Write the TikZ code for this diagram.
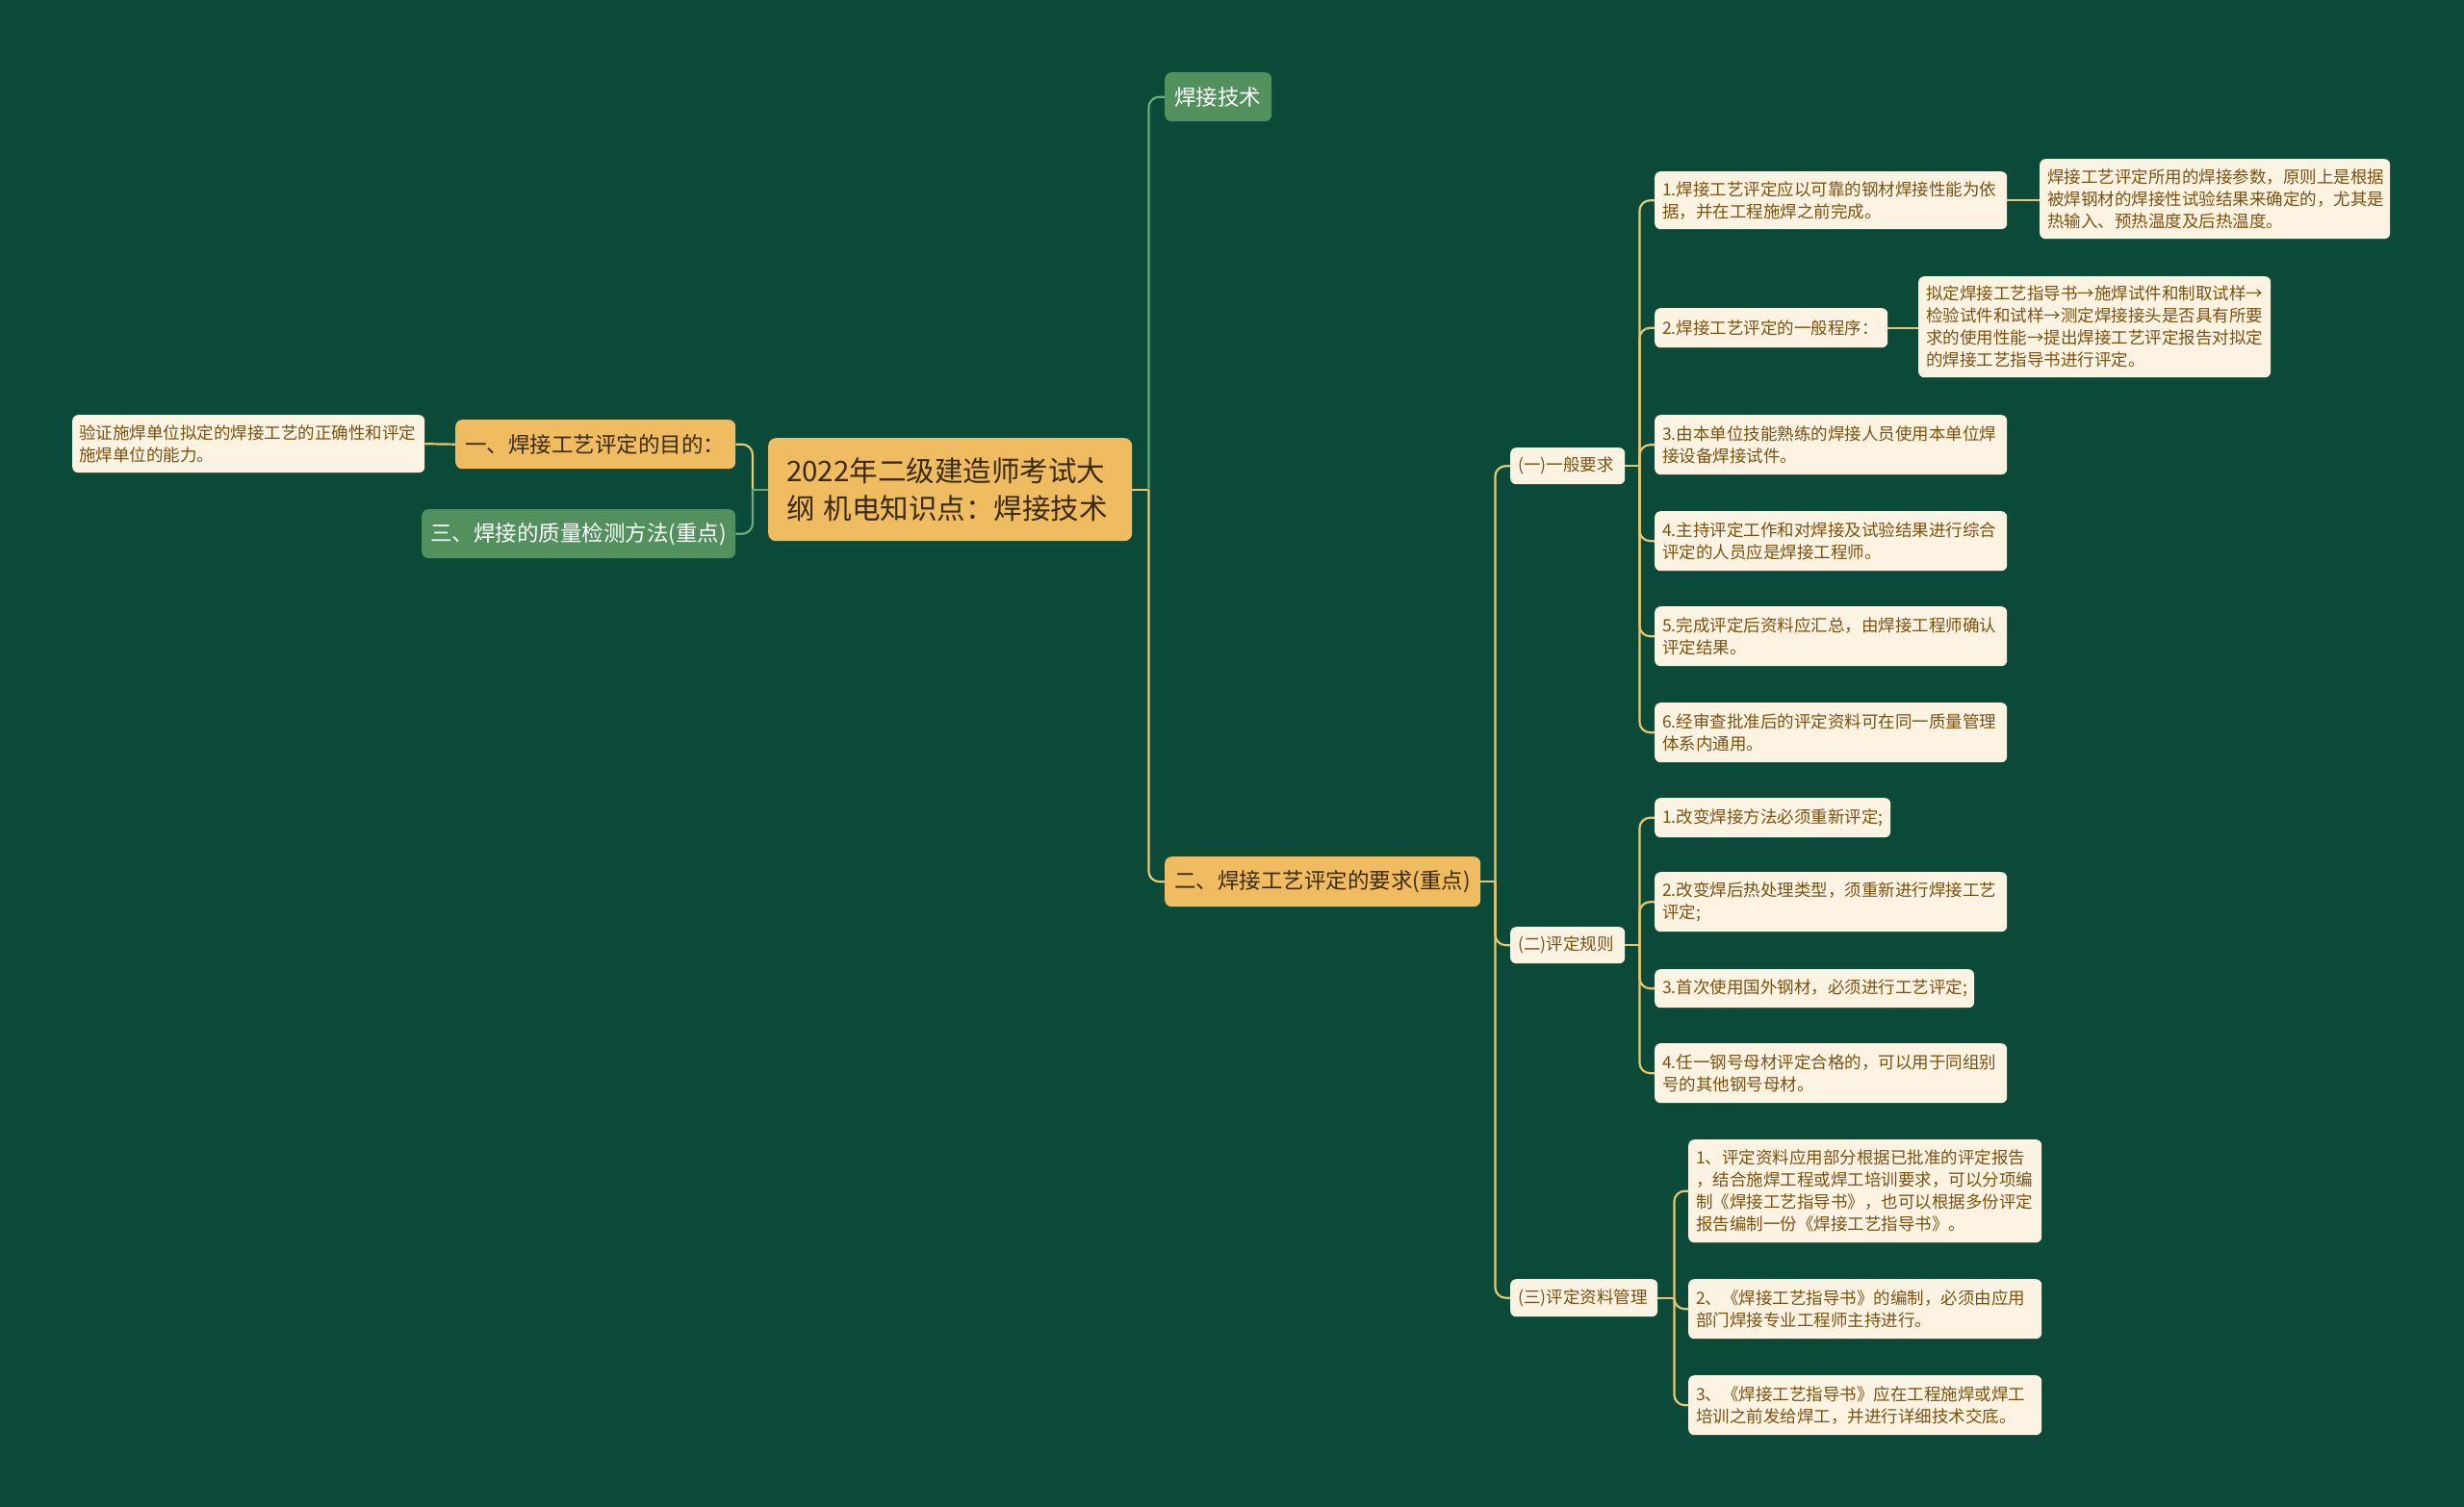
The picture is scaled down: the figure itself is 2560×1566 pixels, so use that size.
\documentclass[tikz,border=0pt]{standalone}
\usepackage{fontspec}
\newfontfamily\cjk{Noto Sans CJK SC}
\usetikzlibrary{calc}
\definecolor{bg}{HTML}{0B4A38}
\definecolor{orangebox}{HTML}{F0BC62}
\definecolor{greenbox}{HTML}{52915E}
\definecolor{creambox}{HTML}{FDF3E3}
\definecolor{leaftext}{HTML}{7A5210}
\definecolor{darktext}{HTML}{3A2A10}
\definecolor{gold}{HTML}{E6C872}
\definecolor{lgreen}{HTML}{6DAA78}
\newcommand\bx[8]{%
\pgfmathsetmacro\bxw{#4-#2}%
\pgfmathsetmacro\bxh{#5-#3}%
\pgfmathsetmacro\bxt{#4-#2-2*#7}%
\node[#6,anchor=north west,inner xsep=#7pt,inner ysep=1pt,minimum width=\bxw pt,minimum height=\bxh pt,text width=\bxt pt] (#1) at (#2,#3) {#8};}
\tikzset{
  leaf/.style={fill=creambox,rounded corners=6pt,text=leaftext,align=left,font=\cjk\fontsize{17.5}{23}\selectfont},
  orng/.style={fill=orangebox,rounded corners=7pt,text=darktext,align=left,font=\cjk\fontsize{22.5}{28}\selectfont},
  grn/.style={fill=greenbox,rounded corners=7pt,text=white,align=left,font=\cjk\fontsize{22.5}{28}\selectfont},
  rootbox/.style={fill=orangebox,rounded corners=8pt,text=darktext,align=left,font=\cjk\fontsize{29.5}{39}\selectfont},
  gl/.style={draw=gold,line width=2.2pt},
  gn/.style={draw=lgreen,line width=2.2pt},
  rc/.style={rounded corners=11pt}
}
\begin{document}
\begin{tikzpicture}[x=1pt,y=-1pt]
\fill[bg] (0,0) rectangle (2560,1566);
\useasboundingbox (0,0) rectangle (2560,1566);

% root and first level
\bx{root}{798}{455}{1176}{562}{rootbox}{19}{2022年二级建造师考试大\\纲\hspace{0.3em}机电知识点：焊接技术}
\bx{tech}{1210}{75}{1321}{126}{grn}{10}{焊接技术}
\bx{er}{1210}{890}{1538}{942}{orng}{10}{二、焊接工艺评定的要求(重点)}
\bx{yi}{473}{436}{764}{487}{orng}{10}{一、焊接工艺评定的目的：}
\bx{san}{438}{529}{764}{580}{grn}{9}{三、焊接的质量检测方法(重点)}
\bx{goal}{75}{431}{441}{491}{leaf}{7}{验证施焊单位拟定的焊接工艺的正确性和评定\\施焊单位的能力。}

% second level
\bx{gen}{1569}{465}{1688}{503}{leaf}{8}{(一)一般要求}
\bx{rule}{1569}{963}{1688}{1001}{leaf}{8}{(二)评定规则}
\bx{mgmt}{1569}{1329}{1722}{1368}{leaf}{8}{(三)评定资料管理}

% general requirements
\bx{ga}{1719}{178}{2085}{238}{leaf}{8}{1.焊接工艺评定应以可靠的钢材焊接性能为依\\据，并在工程施焊之前完成。}
\bx{gad}{2119}{165}{2483}{248}{leaf}{8}{焊接工艺评定所用的焊接参数，原则上是根据\\被焊钢材的焊接性试验结果来确定的，尤其是\\热输入、预热温度及后热温度。}
\bx{gb}{1719}{320}{1961}{361}{leaf}{8}{2.焊接工艺评定的一般程序：}
\bx{gbd}{1993}{287}{2359}{392}{leaf}{8}{拟定焊接工艺指导书→施焊试件和制取试样→\\检验试件和试样→测定焊接接头是否具有所要\\求的使用性能→提出焊接工艺评定报告对拟定\\的焊接工艺指导书进行评定。}
\bx{gc}{1719}{431}{2085}{493}{leaf}{8}{3.由本单位技能熟练的焊接人员使用本单位焊\\接设备焊接试件。}
\bx{gd}{1719}{531}{2085}{593}{leaf}{8}{4.主持评定工作和对焊接及试验结果进行综合\\评定的人员应是焊接工程师。}
\bx{ge}{1719}{630}{2085}{692}{leaf}{8}{5.完成评定后资料应汇总，由焊接工程师确认\\评定结果。}
\bx{gf}{1719}{730}{2085}{792}{leaf}{8}{6.经审查批准后的评定资料可在同一质量管理\\体系内通用。}

% rules
\bx{ra}{1719}{829}{1964}{870}{leaf}{8}{1.改变焊接方法必须重新评定;}
\bx{rb}{1719}{906}{2085}{968}{leaf}{8}{2.改变焊后热处理类型，须重新进行焊接工艺\\评定;}
\bx{rcx}{1719}{1007}{2051}{1047}{leaf}{8}{3.首次使用国外钢材，必须进行工艺评定;}
\bx{rd}{1719}{1084}{2085}{1146}{leaf}{8}{4.任一钢号母材评定合格的，可以用于同组别\\号的其他钢号母材。}

% management
\bx{ma}{1754}{1184}{2121}{1291}{leaf}{8}{1、评定资料应用部分根据已批准的评定报告\\，结合施焊工程或焊工培训要求，可以分项编\\制《焊接工艺指导书》，也可以根据多份评定\\报告编制一份《焊接工艺指导书》。}
\bx{mb}{1754}{1329}{2121}{1391}{leaf}{8}{2、《焊接工艺指导书》的编制，必须由应用\\部门焊接专业工程师主持进行。}
\bx{mc}{1754}{1429}{2121}{1491}{leaf}{8}{3、《焊接工艺指导书》应在工程施焊或焊工\\培训之前发给焊工，并进行详细技术交底。}

% connectors: root right
\draw[gl] (root.east) -- ++(17,0);
\draw[gn,rc] ($(root.east)+(17,0)$) |- (tech.west);
\draw[gl,rc] ($(root.east)+(17,0)$) |- (er.west);
% root left
\draw[gn] (root.west) -- ++(-16,0);
\draw[gl,rc] ($(root.west)+(-16,0)$) |- (yi.east);
\draw[gn,rc] ($(root.west)+(-16,0)$) |- (san.east);
\draw[gl] (yi.west) -- (goal.east);
% er
\draw[gl] (er.east) -- ++(15,0);
\foreach \c in {gen,rule,mgmt}{\draw[gl,rc] ($(er.east)+(15,0)$) |- (\c.west);}
% gen
\draw[gl] (gen.east) -- ++(15,0);
\foreach \c in {ga,gb,gc,gd,ge,gf}{\draw[gl,rc] ($(gen.east)+(15,0)$) |- (\c.west);}
\draw[gl] (ga.east) -- (ga.east -| gad.west);
\draw[gl] (gb.east) -- (gb.east -| gbd.west);
% rule
\draw[gl] (rule.east) -- ++(15,0);
\foreach \c in {ra,rb,rcx,rd}{\draw[gl,rc] ($(rule.east)+(15,0)$) |- (\c.west);}
% mgmt
\draw[gl] (mgmt.east) -- ++(17,0);
\foreach \c in {ma,mb,mc}{\draw[gl,rc] ($(mgmt.east)+(17,0)$) |- (\c.west);}
\end{tikzpicture}
\end{document}
